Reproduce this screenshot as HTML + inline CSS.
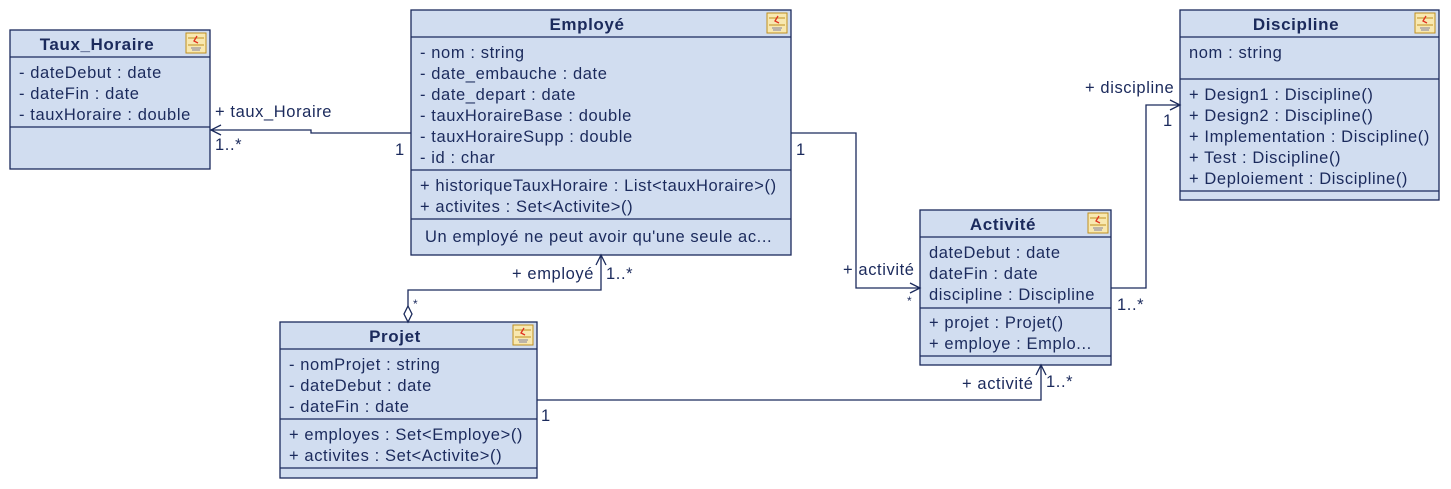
<!DOCTYPE html>
<html><head><meta charset="utf-8"><style>
html,body{margin:0;padding:0;background:#fff;width:1451px;height:489px;overflow:hidden}
svg{display:block}
text{font-family:"Liberation Sans",Arial,sans-serif;font-size:16.5px;letter-spacing:0.6px;fill:#1b2a5c}
.t{font-weight:bold;font-size:17px;letter-spacing:0.6px}
.b{fill:#d1ddf0;stroke:#1b2a5c;stroke-width:1.3}
.l{stroke:#1b2a5c;stroke-width:1.3;fill:none}
</style></head><body>
<svg width="1451" height="489" xmlns="http://www.w3.org/2000/svg">
<defs>
<g id="ic">
<rect x="0" y="0" width="20" height="20" fill="#f8e8b0" stroke="#c09020" stroke-width="1"/>
<line x1="2" y1="5" x2="18" y2="5" stroke="#c09020"/>
<line x1="2" y1="12" x2="18" y2="12" stroke="#c09020"/>
<path d="M11 3 L8 8 L12 10" stroke="#e03020" fill="none" stroke-width="1.3"/>
<path d="M5 15 L15 15 M6 17 L14 17" stroke="#8080a0"/>
</g>
</defs>

<!-- Taux_Horaire -->
<rect class="b" x="10" y="30" width="200" height="139"/>
<line class="l" x1="10" y1="57" x2="210" y2="57"/>
<line class="l" x1="10" y1="127" x2="210" y2="127"/>
<text class="t" x="97" y="50" text-anchor="middle">Taux_Horaire</text>
<use href="#ic" x="186" y="33"/>
<text x="19" y="78">- dateDebut : date</text>
<text x="19" y="99">- dateFin : date</text>
<text x="19" y="120">- tauxHoraire : double</text>

<!-- Employé -->
<rect class="b" x="411" y="10" width="380" height="245"/>
<line class="l" x1="411" y1="37" x2="791" y2="37"/>
<line class="l" x1="411" y1="170" x2="791" y2="170"/>
<line class="l" x1="411" y1="219" x2="791" y2="219"/>
<text class="t" x="587" y="30" text-anchor="middle">Employé</text>
<use href="#ic" x="767" y="13"/>
<text x="420" y="58">- nom : string</text>
<text x="420" y="79">- date_embauche : date</text>
<text x="420" y="100">- date_depart : date</text>
<text x="420" y="121">- tauxHoraireBase : double</text>
<text x="420" y="142">- tauxHoraireSupp : double</text>
<text x="420" y="163">- id  : char</text>
<text x="420" y="191">+ historiqueTauxHoraire : List&lt;tauxHoraire&gt;()</text>
<text x="420" y="212">+ activites : Set&lt;Activite&gt;()</text>
<text x="425" y="242">Un employé ne peut avoir qu'une seule ac...</text>

<!-- Discipline -->
<rect class="b" x="1180" y="10" width="259" height="190"/>
<line class="l" x1="1180" y1="37" x2="1439" y2="37"/>
<line class="l" x1="1180" y1="79" x2="1439" y2="79"/>
<line class="l" x1="1180" y1="191" x2="1439" y2="191"/>
<text class="t" x="1296" y="30" text-anchor="middle">Discipline</text>
<use href="#ic" x="1415" y="13"/>
<text x="1189" y="58">nom : string</text>
<text x="1189" y="100">+ Design1 : Discipline()</text>
<text x="1189" y="121">+ Design2 : Discipline()</text>
<text x="1189" y="142">+ Implementation : Discipline()</text>
<text x="1189" y="163">+ Test : Discipline()</text>
<text x="1189" y="184">+ Deploiement : Discipline()</text>

<!-- Activité -->
<rect class="b" x="920" y="210" width="191" height="155"/>
<line class="l" x1="920" y1="237" x2="1111" y2="237"/>
<line class="l" x1="920" y1="308" x2="1111" y2="308"/>
<line class="l" x1="920" y1="356" x2="1111" y2="356"/>
<text class="t" x="1003" y="230" text-anchor="middle">Activité</text>
<use href="#ic" x="1088" y="213"/>
<text x="929" y="258">dateDebut : date</text>
<text x="929" y="279">dateFin : date</text>
<text x="929" y="300">discipline : Discipline</text>
<text x="929" y="328">+ projet : Projet()</text>
<text x="929" y="349">+ employe : Emplo...</text>

<!-- Projet -->
<rect class="b" x="280" y="322" width="257" height="156"/>
<line class="l" x1="280" y1="349" x2="537" y2="349"/>
<line class="l" x1="280" y1="419" x2="537" y2="419"/>
<line class="l" x1="280" y1="468" x2="537" y2="468"/>
<text class="t" x="395" y="342" text-anchor="middle">Projet</text>
<use href="#ic" x="513" y="325"/>
<text x="289" y="370">- nomProjet : string</text>
<text x="289" y="391">- dateDebut : date</text>
<text x="289" y="412">- dateFin : date</text>
<text x="289" y="440">+ employes : Set&lt;Employe&gt;()</text>
<text x="289" y="461">+ activites : Set&lt;Activite&gt;()</text>

<!-- Connectors -->
<polyline class="l" points="411,133 311,133 311,130 210,130"/>
<polyline class="l" points="221,125 211,130 221,135"/>
<text x="215" y="117">+ taux_Horaire</text>
<text x="215" y="150">1..*</text>
<text x="395" y="155">1</text>

<polyline class="l" points="791,133 856,133 856,288 920,288"/>
<polyline class="l" points="910,283 920,288 910,293"/>
<text x="796" y="155">1</text>
<text x="843" y="275">+ activité</text>
<text x="907" y="305" style="font-size:12px">*</text>

<polyline class="l" points="1111,288 1146,288 1146,105 1180,105"/>
<polyline class="l" points="1170,100 1180,105 1170,110"/>
<text x="1085" y="93">+ discipline</text>
<text x="1163" y="126">1</text>
<text x="1117" y="310">1..*</text>

<polyline class="l" points="537,400 1041,400 1041,365"/>
<polyline class="l" points="1036,375 1041,365 1046,375"/>
<text x="541" y="421">1</text>
<text x="962" y="389">+ activité</text>
<text x="1046" y="387">1..*</text>

<polyline class="l" points="408,306 408,290 601,290 601,255"/>
<polyline class="l" points="596,265 601,255 606,265"/>
<polygon points="408,306 412,314 408,322 404,314" fill="#fff" stroke="#1b2a5c" stroke-width="1.3"/>
<text x="512" y="279">+ employé</text>
<text x="606" y="279">1..*</text>
<text x="413" y="308" style="font-size:12px">*</text>
</svg>
</body></html>
